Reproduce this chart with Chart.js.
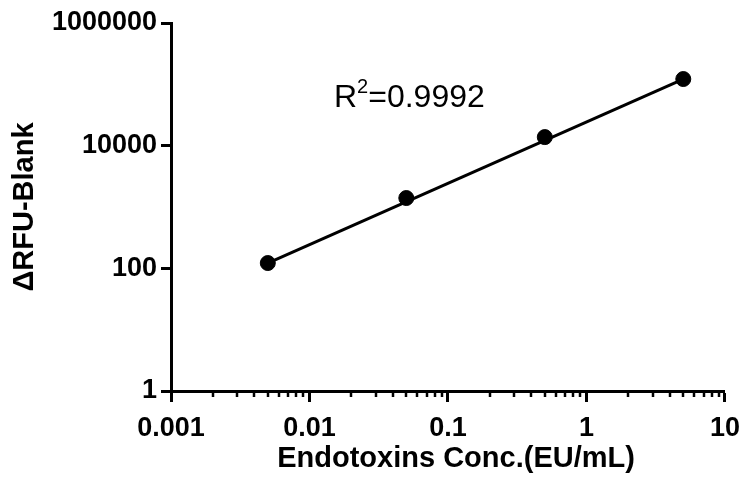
<!DOCTYPE html>
<html>
<head>
<meta charset="utf-8">
<script src="https://cdn.jsdelivr.net/npm/chart.js@4.4.1/dist/chart.umd.min.js"></script>
<style>
  html, body { margin: 0; padding: 0; background: #fff; }
  #wrap { width: 750px; height: 490px; }
</style>
</head>
<body>
<div id="wrap"><canvas id="stdCurve" width="750" height="490"></canvas></div>
<script>
// 標準曲線のデータ
const concentrations = [0.005, 0.05, 0.5, 5];
const rfuValues = [122, 1400, 13800, 122000];
const fitX = [0.005, 5];
const fitY = [122, 122000];
const xTickValues = [0.001, 0.01, 0.1, 1, 10];
const xTickLabels = ['0.001', '0.01', '0.1', '1', '10'];
const yTickValues = [1, 100, 10000, 1000000];
const yTickLabels = ['1', '100', '10000', '1000000'];
const rSquaredText = '0.9992';

const FONT = '"Liberation Sans", Arial, Helvetica, sans-serif';
Chart.defaults.font.family = FONT;
Chart.defaults.color = '#000';

// 小目盛り (2〜9)
const xMinorTicks = [];
xTickValues.slice(0, -1).forEach(d => {
  for (let k = 2; k <= 9; k++) xMinorTicks.push(+(d * k).toPrecision(3));
});

const minorTickPlugin = {
  id: 'minorTicks',
  afterDraw(chart) {
    const ctx = chart.ctx;
    const xs = chart.scales.x;
    const bottom = chart.chartArea.bottom;
    ctx.save();
    ctx.strokeStyle = '#000';
    ctx.lineWidth = 2.5;
    xMinorTicks.forEach(v => {
      const px = Math.round(xs.getPixelForValue(v));
      ctx.beginPath();
      ctx.moveTo(px, bottom);
      ctx.lineTo(px, bottom + 6);
      ctx.stroke();
    });
    ctx.restore();
  }
};

// R² の注記
const r2Plugin = {
  id: 'r2Label',
  afterDraw(chart) {
    const ctx = chart.ctx;
    const x = 334, y = 107;
    ctx.save();
    ctx.fillStyle = '#000';
    ctx.textBaseline = 'alphabetic';
    ctx.textAlign = 'left';
    ctx.font = '32px ' + FONT;
    ctx.fillText('R', x, y);
    const w = ctx.measureText('R').width;
    ctx.font = '20px ' + FONT;
    ctx.fillText('2', x + w, y - 14);
    const w2 = ctx.measureText('2').width;
    ctx.font = '32px ' + FONT;
    ctx.fillText('=' + rSquaredText, x + w + w2, y);
    ctx.restore();
  }
};

new Chart(document.getElementById('stdCurve'), {
  type: 'scatter',
  data: {
    datasets: [
      {
        label: 'fit',
        data: fitX.map((x, i) => ({ x: x, y: fitY[i] })),
        showLine: true,
        borderColor: '#000',
        borderWidth: 3,
        pointRadius: 0,
        fill: false
      },
      {
        label: 'data',
        data: concentrations.map((x, i) => ({ x: x, y: rfuValues[i] })),
        backgroundColor: '#000',
        borderColor: '#000',
        pointRadius: 7.5,
        pointHoverRadius: 7.5
      }
    ]
  },
  options: {
    responsive: false,
    animation: false,
    devicePixelRatio: 1,
    layout: { padding: { top: 23, right: 21, left: 0, bottom: 0 } },
    plugins: {
      legend: { display: false },
      tooltip: { enabled: false }
    },
    scales: {
      x: {
        type: 'logarithmic',
        min: 0.001,
        max: 10,
        afterBuildTicks: s => { s.ticks = xTickValues.map(v => ({ value: v })); },
        afterFit: s => { s.height = 99; },
        border: { display: true, color: '#000', width: 3 },
        grid: { drawOnChartArea: false, drawTicks: true, tickLength: 11, tickWidth: 3, tickColor: '#000' },
        ticks: {
          autoSkip: false,
          maxRotation: 0,
          padding: 10,
          font: { size: 27, weight: 'bold' },
          callback: (v) => {
            const i = xTickValues.findIndex(t => Math.abs(t - v) / t < 1e-6);
            return i >= 0 ? xTickLabels[i] : '';
          }
        },
        title: {
          display: true,
          text: '\u00a0\u00a0Endotoxins Conc.(EU/mL)',
          font: { size: 29, weight: 'bold' },
          padding: { top: 0, bottom: 14 }
        }
      },
      y: {
        type: 'logarithmic',
        min: 1,
        max: 1000000,
        afterBuildTicks: s => { s.ticks = yTickValues.map(v => ({ value: v })); },
        afterFit: s => { s.width = 171; },
        border: { display: true, color: '#000', width: 3 },
        grid: { drawOnChartArea: false, drawTicks: true, tickLength: 10, tickWidth: 3, tickColor: '#000' },
        ticks: {
          autoSkip: false,
          padding: 4,
          font: { size: 27, weight: 'bold' },
          callback: (v) => {
            const i = yTickValues.findIndex(t => Math.abs(t - v) / t < 1e-6);
            return i >= 0 ? yTickLabels[i] : '';
          }
        },
        title: {
          display: true,
          text: 'ΔRFU-Blank',
          font: { size: 29, weight: 'bold' },
          padding: { top: 8, bottom: 0 }
        }
      }
    }
  },
  plugins: [minorTickPlugin, r2Plugin]
});
</script>
</body>
</html>
